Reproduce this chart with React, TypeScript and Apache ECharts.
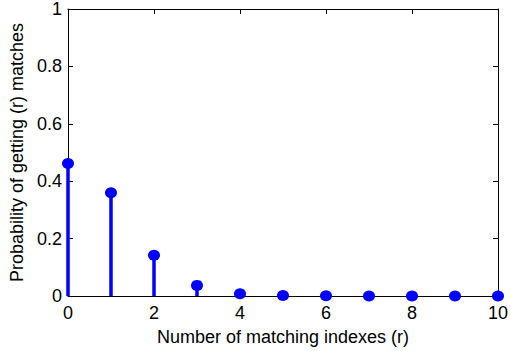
import React, { useEffect, useRef } from "react";
import * as echarts from "echarts";

const rValues = [0, 1, 2, 3, 4, 5, 6, 7, 8, 9, 10];
const probabilities = [0.462, 0.36, 0.142, 0.037, 0.008, 0.002, 0.0005, 0, 0, 0, 0];
const xTicks = { min: 0, max: 10, interval: 2 };
const yTicks = { min: 0, max: 1, interval: 0.2 };
const xTitle = "Number of matching indexes (r)";
const yTitle = "Probability of getting (r) matches";

const FONT = "Liberation Sans, Arial, Helvetica, sans-serif";
const BLUE = "#0000ff";

export default function App() {
  const ref = useRef<HTMLDivElement>(null);
  useEffect(() => {
    if (!ref.current) return;
    const chart = echarts.init(ref.current, undefined, { renderer: "svg" });
    const data = rValues.map((r, i) => [r, probabilities[i]]);
    const axisCommon = {
      axisLine: { show: true, onZero: false, lineStyle: { color: "#000", width: 1 } },
      axisTick: { show: true, inside: true, length: 5, lineStyle: { color: "#000" } },
      splitLine: { show: false },
    };
    chart.setOption({
      animation: false,
      backgroundColor: "#fff",
      grid: { left: 67, right: 11, top: 8, bottom: 53, containLabel: false },
      xAxis: [
        {
          type: "value",
          ...xTicks,
          position: "bottom",
          ...axisCommon,
          axisLabel: { color: "#000", fontSize: 18, fontFamily: FONT, margin: 8 },
          name: xTitle,
          nameLocation: "middle",
          nameGap: 32,
          nameTextStyle: { color: "#000", fontSize: 18, fontFamily: FONT, verticalAlign: "top" },
        },
        {
          type: "value",
          ...xTicks,
          position: "top",
          ...axisCommon,
          axisLabel: { show: false },
        },
      ],
      yAxis: [
        {
          type: "value",
          ...yTicks,
          position: "left",
          ...axisCommon,
          axisLabel: { color: "#000", fontSize: 18, fontFamily: FONT, margin: 6 },
          name: yTitle,
          nameLocation: "middle",
          nameGap: 42,
          nameTextStyle: { color: "#000", fontSize: 18, fontFamily: FONT },
        },
        {
          type: "value",
          ...yTicks,
          position: "right",
          ...axisCommon,
          axisLabel: { show: false },
        },
      ],
      series: [
        {
          type: "custom",
          xAxisIndex: 0,
          yAxisIndex: 0,
          data,
          renderItem: (params: any, api: any) => {
            const x = api.value(0);
            const y = api.value(1);
            const p0 = api.coord([x, 0]);
            const p1 = api.coord([x, y]);
            return {
              type: "line",
              shape: { x1: p0[0], y1: p0[1], x2: p1[0], y2: p1[1] },
              style: { stroke: BLUE, lineWidth: 3.5 },
            };
          },
          z: 3,
        },
        {
          type: "scatter",
          xAxisIndex: 0,
          yAxisIndex: 0,
          data,
          symbol: "circle",
          symbolSize: [12, 11],
          itemStyle: { color: BLUE, opacity: 1 },
          z: 4,
        },
      ],
    });
    return () => chart.dispose();
  }, []);
  return <div ref={ref} style={{ width: 511, height: 351, position: "absolute", left: 0, top: 0 }} />;
}
